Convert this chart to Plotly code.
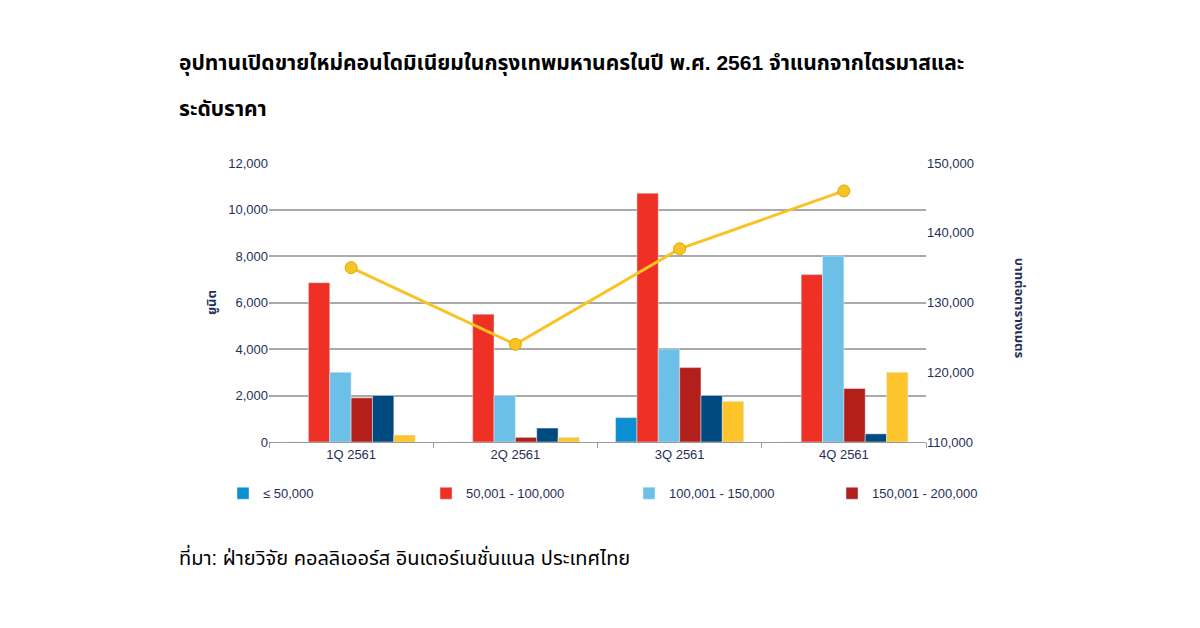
import plotly.graph_objects as go

quarters = ["1Q 2561", "2Q 2561", "3Q 2561", "4Q 2561"]
s_le50 = [0, 0, 1050, 0]
s_50_100 = [6850, 5500, 10700, 7200]
s_100_150 = [3000, 2000, 4000, 8000]
s_150_200 = [1900, 200, 3200, 2300]
s_200_300 = [2000, 600, 2000, 350]
s_gt300 = [300, 200, 1750, 3000]
avg_price = [135000, 124000, 137700, 146000]

navy = "#1f2f5a"
fig = go.Figure()
bars = [
    ("≤ 50,000", s_le50, "#0a8fd0", True),
    ("50,001 - 100,000", s_50_100, "#ee3124", True),
    ("100,001 - 150,000", s_100_150, "#6cc0e8", True),
    ("150,001 - 200,000", s_150_200, "#b3201b", True),
    ("200,001 - 300,000", s_200_300, "#004a80", False),
    ("> 300,000", s_gt300, "#fdc42c", False),
]
for name, vals, col, leg in bars:
    fig.add_bar(x=quarters, y=vals, name=name, marker_color=col, showlegend=leg)
fig.add_scatter(x=quarters, y=avg_price, yaxis="y2", mode="lines+markers", showlegend=False,
                line=dict(color="#f7c325", width=3),
                marker=dict(size=12, color="#f7c325", line=dict(color="#e0a800", width=1)))

fig.update_layout(
    width=1200, height=628, paper_bgcolor="white", plot_bgcolor="white",
    font=dict(family="Liberation Sans, Noto Sans Thai, sans-serif", color=navy, size=12),
    margin=dict(l=261, r=282, t=155, b=194),
    barmode="group", bargap=0.22, bargroupgap=0,
    xaxis=dict(showline=True, linecolor="#999", ticks="outside", tickson="boundaries",
               tickcolor="#999", ticklen=5, tickfont=dict(size=13, color=navy)),
    yaxis=dict(range=[0, 12000], dtick=2000, tickformat=",", gridcolor="#aaaaaa", gridwidth=2,
               zeroline=False, tickfont=dict(size=13, color=navy),
               title=dict(text="<b>ยูนิต</b>", font=dict(size=13, color=navy), standoff=8)),
    yaxis2=dict(overlaying="y", side="right", range=[110000, 150000], dtick=10000, tickformat=",",
                showgrid=False, zeroline=False, tickfont=dict(size=13, color=navy)),
    legend=dict(orientation="h", x=-0.07, y=-0.13, xanchor="left", yanchor="top",
                font=dict(size=13, color=navy), itemwidth=30, entrywidth=158, traceorder="normal"),
)
fig.add_annotation(text="<b>บาทต่อตารางเมตร</b>", xref="paper", yref="paper", x=1.158, y=0.48,
                   textangle=90, showarrow=False, font=dict(size=13, color=navy))
fig.add_annotation(text="<b>อุปทานเปิดขายใหม่คอนโดมิเนียมในกรุงเทพมหานครในปี พ.ศ. 2561 จำแนกจากไตรมาสและ</b>",
                   xref="paper", yref="paper", x=-0.14, y=1.358, xanchor="left", yanchor="middle", align="left",
                   showarrow=False, font=dict(size=21, color="black"))
fig.add_annotation(text="<b>ระดับราคา</b>",
                   xref="paper", yref="paper", x=-0.14, y=1.197, xanchor="left", yanchor="middle",
                   align="left", showarrow=False, font=dict(size=21, color="black"))
fig.add_annotation(text="ที่มา: ฝ่ายวิจัย คอลลิเออร์ส อินเตอร์เนชั่นแนล ประเทศไทย",
                   xref="paper", yref="paper", x=-0.14, y=-0.41, xanchor="left", yanchor="middle",
                   showarrow=False, font=dict(size=20, color="black"))
fig.write_html("out.html")
